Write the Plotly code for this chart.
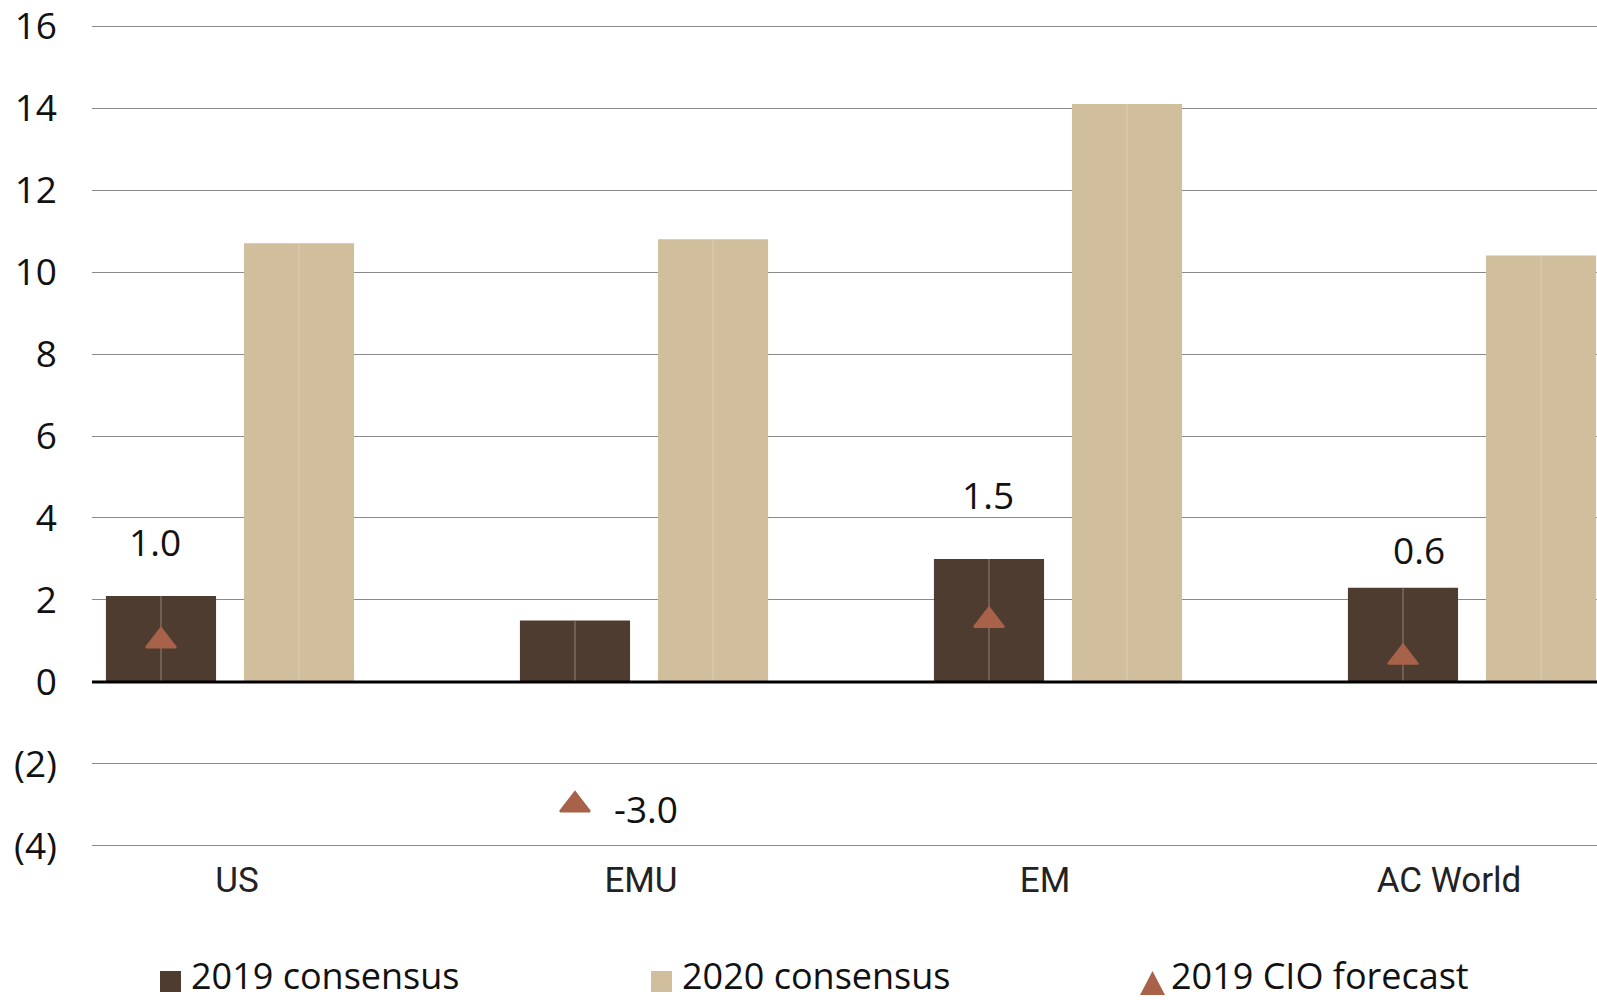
import plotly.graph_objects as go

# Earnings growth, % (consensus vs. CIO forecast)
regions = ["US", "EMU", "EM", "AC World"]
consensus_2019 = [2.1, 1.5, 3.0, 2.3]
consensus_2020 = [10.7, 10.8, 14.1, 10.4]
cio_forecast_2019 = [1.0, -3.0, 1.5, 0.6]

y_ticks = [-4, -2, 0, 2, 4, 6, 8, 10, 12, 14, 16]
y_tick_text = ["(4)", "(2)", "0", "2", "4", "6", "8", "10", "12", "14", "16"]

# colours
DARK = "#4e3c30"
BEIGE = "#d0be9c"
RUST = "#a8624a"
GRID = "#8a8a8a"

# layout geometry (pixels)
W, H = 1597, 1000
ML, MR, MT, MB = 92, 0, 24, 152
PW, PH = W - ML - MR, H - MT - MB

BAR_W = 0.266
SHIFT = 0.1667

idx = list(range(len(regions)))
x19 = [i - SHIFT for i in idx]
x20 = [i + SHIFT for i in idx]

FONT = "Open Sans, Noto Sans, DejaVu Sans, sans-serif"
LABEL_FONT = "Roboto, Open Sans, sans-serif"

fig = go.Figure()

fig.add_trace(go.Bar(
    x=x19, y=consensus_2019, width=BAR_W, name="2019 consensus",
    marker=dict(color=DARK, line=dict(width=0)),
    error_y=dict(type="data", symmetric=False, array=[0] * 4,
                 arrayminus=consensus_2019, color="#8f8379", thickness=1, width=0),
    showlegend=False, hoverinfo="skip",
))
fig.add_trace(go.Bar(
    x=x20, y=consensus_2020, width=BAR_W, name="2020 consensus",
    marker=dict(color=BEIGE, line=dict(width=0)),
    error_y=dict(type="data", symmetric=False, array=[0] * 4,
                 arrayminus=consensus_2020, color="#dcd0b8", thickness=1, width=0),
    showlegend=False, hoverinfo="skip",
))
fig.add_trace(go.Scatter(
    x=x19, y=cio_forecast_2019, mode="markers", name="2019 CIO forecast",
    marker=dict(symbol="triangle-up", size=26, color=RUST,
                line=dict(width=2, color=RUST)),
    showlegend=False, hoverinfo="skip",
))
# carrier trace for the category label axis
fig.add_trace(go.Scatter(
    x=idx, y=[0] * 4, xaxis="x2", mode="markers",
    marker=dict(opacity=0), showlegend=False, hoverinfo="skip",
))

# value labels for the CIO forecast markers
label_shift = [(-6, 99), (71, -4), (-1, 126), (16, 108)]
for xv, yv, (dx, dy) in zip(x19, cio_forecast_2019, label_shift):
    fig.add_annotation(
        x=xv, y=yv, text=f"{yv:.1f}", showarrow=False,
        xshift=dx, yshift=dy, xanchor="center", yanchor="middle",
        font=dict(family=FONT, size=37, color="#111111"),
    )

# zero line drawn over the bar bases
fig.add_shape(type="line", xref="paper", yref="y", x0=0, x1=1, y0=0, y1=0,
              line=dict(color="#000000", width=3), layer="above")


def px_x(p):
    return (p - ML) / PW


def px_y(p):
    return (MT + PH - p) / PH


# custom legend row
legend_items = [
    ("square", DARK, 160, "2019 consensus"),
    ("square", BEIGE, 651, "2020 consensus"),
    ("triangle", RUST, 1140, "2019 CIO forecast"),
]
for kind, col, x0, label in legend_items:
    if kind == "square":
        fig.add_shape(type="rect", xref="paper", yref="paper",
                      x0=px_x(x0), x1=px_x(x0 + 21), y0=px_y(971), y1=px_y(992),
                      fillcolor=col, line=dict(width=0))
    else:
        path = (f"M {px_x(x0)} {px_y(995)} L {px_x(x0 + 25)} {px_y(995)} "
                f"L {px_x(x0 + 12.5)} {px_y(971)} Z")
        fig.add_shape(type="path", xref="paper", yref="paper", path=path,
                      fillcolor=col, line=dict(width=0))
    fig.add_annotation(
        x=px_x(x0 + 29), y=px_y(975), xref="paper", yref="paper",
        text=label, showarrow=False, xanchor="left", yanchor="middle",
        font=dict(family=FONT, size=36, color="#111111"),
    )

fig.update_layout(
    width=W, height=H,
    margin=dict(l=ML, r=MR, t=MT, b=MB, pad=0),
    paper_bgcolor="white", plot_bgcolor="white",
    barmode="overlay",
    showlegend=False,
    xaxis=dict(
        range=[(ML - 230) / 414, (W - 230) / 414],
        showticklabels=False, showgrid=False, zeroline=False,
        showline=False, ticks="",
    ),
    xaxis2=dict(
        overlaying="x", anchor="y", side="bottom",
        range=[(ML - 237) / 404, (W - 237) / 404],
        tickmode="array", tickvals=idx, ticktext=regions,
        showgrid=False, zeroline=False, showline=False, ticks="",
        ticklabelstandoff=8,
        tickfont=dict(family=LABEL_FONT, size=35, color="#222222"),
    ),
    yaxis=dict(
        range=[-4.05, 16.05],
        tickmode="array", tickvals=y_ticks, ticktext=y_tick_text,
        showgrid=True, gridcolor=GRID, gridwidth=1.3,
        zeroline=False, showline=False, ticks="",
        ticklabelstandoff=34, ticklabeloverflow="allow",
        tickfont=dict(family=FONT, size=37, color="#111111"),
    ),
)

fig.write_html("out.html")
